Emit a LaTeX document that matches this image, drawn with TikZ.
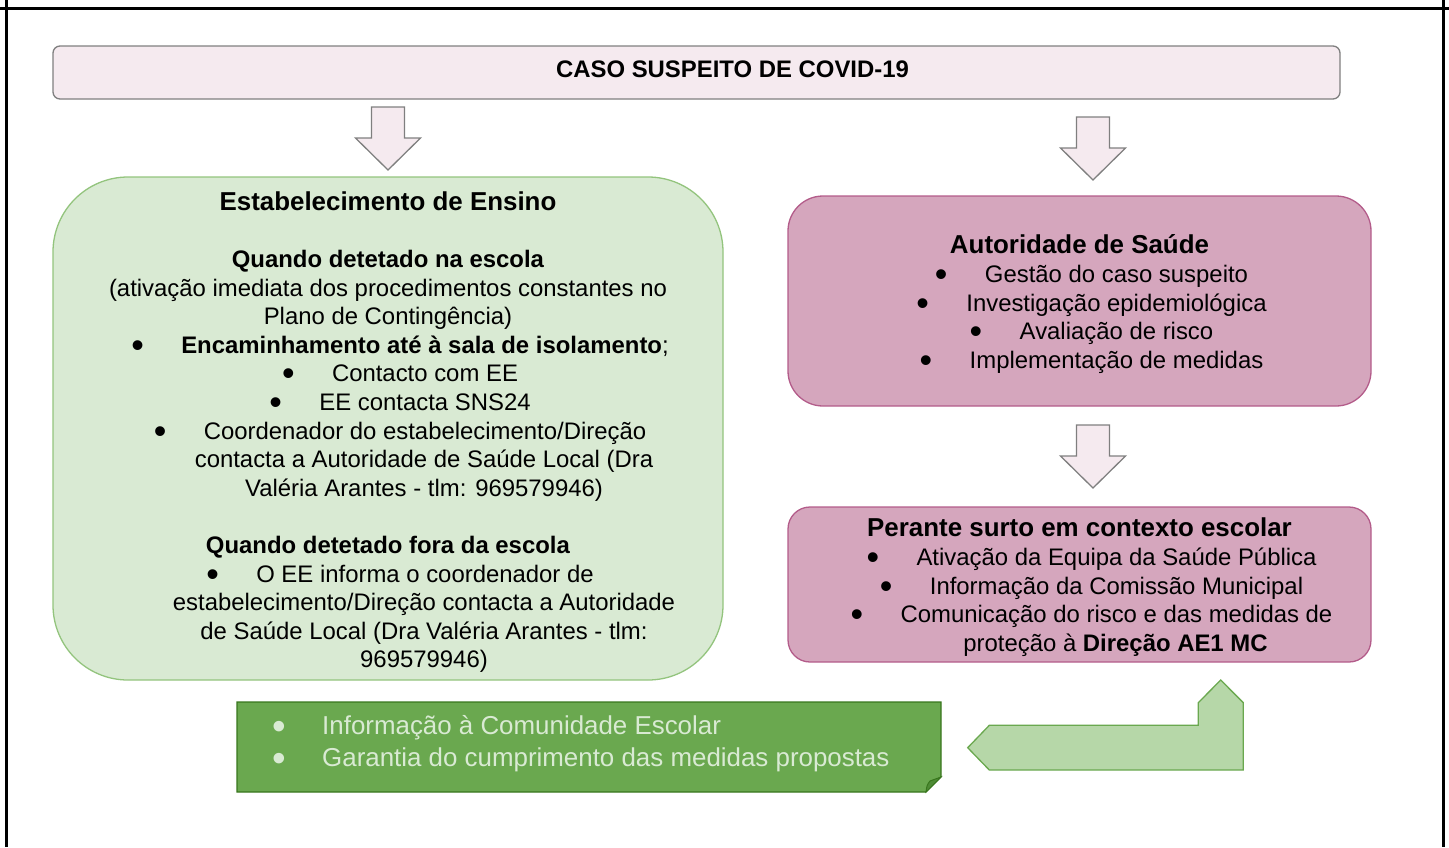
\documentclass[tikz,border=0pt]{standalone}
\usepackage{fontspec}
\setmainfont{Liberation Sans}
\definecolor{pinkfill}{HTML}{F5EAEF}
\definecolor{greyline}{HTML}{7F7F7F}
\definecolor{greenfill}{HTML}{D9EAD3}
\definecolor{greenline}{HTML}{93C47D}
\definecolor{magfill}{HTML}{D5A6BD}
\definecolor{magline}{HTML}{B35C8A}
\definecolor{notefill}{HTML}{6AA84F}
\definecolor{noteline}{HTML}{38761D}
\definecolor{foldfill}{HTML}{4E8B35}
\definecolor{notetext}{HTML}{D9EAD3}
\definecolor{bentfill}{HTML}{B6D7A8}
\newcommand\txtbody{\fontsize{23.9}{28.6}\selectfont}
\newcommand\txthead{\fontsize{25.9}{28.6}\selectfont\bfseries}
\newcommand\txtnote{\fontsize{25.9}{32}\selectfont}
\newcommand\bigbul{\raisebox{-0.17em}{\scalebox{1.5}{\textbullet}}}
\newcommand\itm[1]{\hspace*{24pt}\makebox[50pt][l]{\bigbul}#1}
\newcommand\itmcont[1]{\hspace*{72pt}#1}
\begin{document}
\begin{tikzpicture}[x=1pt,y=-1pt,
    box/.style={draw,line width=1.3pt},
    boxtext/.style={align=center,inner sep=0pt,font=\txtbody},
    blockarrow/.style={draw=greyline,fill=pinkfill,line width=1.3pt},
    bentarrow/.style={draw=notefill,fill=bentfill,line width=1.3pt}]
  \useasboundingbox (0,0) rectangle (1449,847);
  \draw[line width=3pt] (0,8) -- (1449,8) (6.5,0) -- (6.5,847) (1443,0) -- (1443,847);
  \node[box,draw=greyline,fill=pinkfill,rounded corners=7pt,minimum width=1287pt,
    minimum height=53pt] (caso) at (696.5,72.5) {};
  \node[boxtext,font=\txtbody\bfseries] (casotxt) at ([yshift=3pt]caso.center)
    {\hspace*{72pt}CASO SUSPEITO DE COVID-19};
  \node[box,draw=greenline,fill=greenfill,rounded corners=75pt,minimum width=670pt,
    minimum height=503pt] (ensino) at (388,428.5) {};
  \node[boxtext] (ensinotxt) at ([yshift=-4pt]ensino.center) {
    {\txthead Estabelecimento de Ensino}\\[28pt]
    \textbf{Quando detetado na escola}\\
    (ativação imediata dos procedimentos constantes no\\
    Plano de Contingência)\\
    \itm{\textbf{Encaminhamento até à sala de isolamento};}\\
    \itm{Contacto com EE}\\
    \itm{EE contacta SNS24}\\
    \itm{Coordenador do estabelecimento/Direção}\\
    \itmcont{contacta a Autoridade de Saúde Local (Dra}\\
    \itmcont{Valéria Arantes - tlm: 969579946)}\\[28.6pt]
    \textbf{Quando detetado fora da escola}\\
    \itm{O EE informa o coordenador de}\\
    \itmcont{estabelecimento/Direção contacta a Autoridade}\\
    \itmcont{de Saúde Local (Dra Valéria Arantes - tlm:}\\
    \itmcont{969579946)}};
  \node[box,draw=magline,fill=magfill,rounded corners=35pt,minimum width=583pt,
    minimum height=210pt] (saude) at (1079.5,301) {};
  \node[boxtext] (saudetxt) at ([yshift=-3pt]saude.center) {
    {\txthead Autoridade de Saúde}\\[0.4pt]
    \itm{Gestão do caso suspeito}\\
    \itm{Investigação epidemiológica}\\
    \itm{Avaliação de risco}\\
    \itm{Implementação de medidas}};
  \node[box,draw=magline,fill=magfill,rounded corners=22pt,minimum width=583pt,
    minimum height=155pt] (surto) at (1079.5,584.5) {};
  \node[boxtext] (surtotxt) at ([yshift=-2.5pt]surto.center) {
    {\txthead Perante surto em contexto escolar}\\[0.4pt]
    \itm{Ativação da Equipa da Saúde Pública}\\
    \itm{Informação da Comissão Municipal}\\
    \itm{Comunicação do risco e das medidas de}\\
    \itmcont{proteção à \textbf{Direção AE1 MC}}};
  \foreach \cx/\yt in {388/107,1093/117,1093/425}
    \draw[blockarrow] (\cx-16.5,\yt) -- (\cx+16.5,\yt) -- (\cx+16.5,\yt+31)
      -- (\cx+32.5,\yt+31) -- (\cx,\yt+63) -- (\cx-32.5,\yt+31)
      -- (\cx-16.5,\yt+31) -- cycle;
  \draw[draw=noteline,fill=notefill,line width=1.3pt] (237,702) -- (941,702)
    -- (941,777) -- (926,792) -- (237,792) -- cycle;
  \draw[draw=noteline,fill=foldfill,line width=1pt] (926,792)
    .. controls (927,785) .. (930,781) -- (941,777) -- cycle;
  \node[anchor=west,align=left,inner sep=0pt,text=notetext,font=\txtnote]
    (comunidade) at (272,744) {\makebox[50pt][l]{\bigbul}Informação à Comunidade Escolar\\
    \makebox[50pt][l]{\bigbul}Garantia do cumprimento das medidas propostas};
  \draw[bentarrow] (967.7,747.7) -- (989.3,725.3) -- (1198.3,725.3) -- (1198.3,702.7)
    -- (1220.7,680) -- (1243.3,702.7) -- (1243.3,770) -- (989.3,770) -- cycle;
\end{tikzpicture}
\end{document}
